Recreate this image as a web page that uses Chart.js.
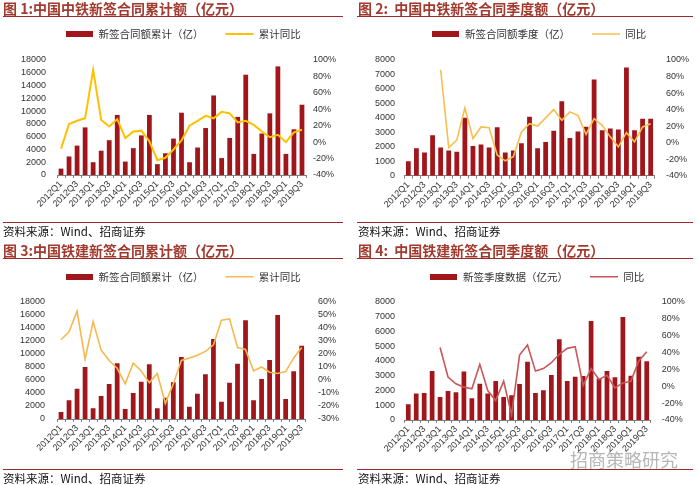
<!DOCTYPE html>
<html>
<head>
<meta charset="utf-8">
<script src="https://cdn.jsdelivr.net/npm/chart.js@4.4.1/dist/chart.umd.min.js"></script>
<style>
body { margin:0; background:#fff; width:700px; height:485px; overflow:hidden; position:relative; }
.panel { position:absolute; width:350px; }
.panel canvas { position:absolute; left:0; top:0; }
.title { position:absolute; white-space:nowrap; font-family:"Noto Sans CJK SC",sans-serif; font-weight:bold; font-size:14px; line-height:16px; color:#a33a2e; }
.rule { position:absolute; height:0; border-top:1.5px solid #9c2a2a; }
.source { position:absolute; white-space:nowrap; font-family:"Noto Sans CJK SC",sans-serif; font-size:11.5px; line-height:14px; color:#111; }
.mark { position:absolute; left:570px; top:446px; font-family:"Noto Sans CJK SC",sans-serif; font-size:18px; color:rgba(110,110,110,0.5); white-space:nowrap; }
</style>
</head>
<body>
<div class="panel" style="left:0;top:0;height:240px">
  <canvas id="c1" width="350" height="240"></canvas>
  <div class="title" style="left:3px;top:0">图 1:中国中铁新签合同累计额（亿元）</div>
  <div class="rule" style="left:3px;width:340px;top:16px"></div>
  <div class="rule" style="left:3px;width:340px;top:222px"></div>
  <div class="source" style="left:3px;top:224px">资料来源：Wind、招商证券</div>
</div>
<div class="panel" style="left:350px;top:0;height:240px">
  <canvas id="c2" width="350" height="240"></canvas>
  <div class="title" style="left:8px;top:0">图 2:&nbsp; 中国中铁新签合同季度额（亿元）</div>
  <div class="rule" style="left:7px;width:336px;top:16px"></div>
  <div class="rule" style="left:7px;width:336px;top:222px"></div>
  <div class="source" style="left:8px;top:224px">资料来源：Wind、招商证券</div>
</div>
<div class="panel" style="left:0;top:240px;height:245px">
  <canvas id="c3" width="350" height="245"></canvas>
  <div class="title" style="left:3px;top:2px">图 3:中国铁建新签合同累计额（亿元）</div>
  <div class="rule" style="left:3px;width:340px;top:18px"></div>
  <div class="rule" style="left:3px;width:340px;top:229px"></div>
  <div class="source" style="left:3px;top:231px">资料来源：Wind、招商证券</div>
</div>
<div class="panel" style="left:350px;top:240px;height:245px">
  <canvas id="c4" width="350" height="245"></canvas>
  <div class="title" style="left:8px;top:2px">图 4:&nbsp; 中国铁建新签合同季度额（亿元）</div>
  <div class="rule" style="left:7px;width:336px;top:18px"></div>
  <div class="rule" style="left:7px;width:336px;top:229px"></div>
  <div class="source" style="left:8px;top:231px">资料来源：Wind、招商证券</div>
</div>
<div class="mark">招商策略研究</div>
<script>
// quarters 2012Q1 .. 2019Q3
const quarters = ['2012Q1','2012Q2','2012Q3','2012Q4','2013Q1','2013Q2','2013Q3','2013Q4',
  '2014Q1','2014Q2','2014Q3','2014Q4','2015Q1','2015Q2','2015Q3','2015Q4',
  '2016Q1','2016Q2','2016Q3','2016Q4','2017Q1','2017Q2','2017Q3','2017Q4',
  '2018Q1','2018Q2','2018Q3','2018Q4','2019Q1','2019Q2','2019Q3'];

// 中国中铁 累计 (亿) and 累计同比 (%)
const crecTotal = [1000,2900,4600,7450,2000,3800,5450,9400,2100,4200,6200,9400,1700,3400,5700,9750,
  2000,4300,7350,12450,2650,5800,9100,15700,3300,6500,9650,17000,3300,7150,11000];
const crecTotalYoy = [-8,22,26,29,88,27,19,28,5,13,14,1,-22,-19,-9,2,
  20,26,32,29,37,35,24,26,21,13,6,9,0,12,15];

// 中国中铁 季度 (亿) and 同比 (%)
const crecQuarter = [1000,1900,1600,2800,1950,1750,1650,4000,2050,2150,1950,3350,1600,1750,2250,4080,
  1900,2330,3100,5140,2600,3060,3390,6660,3150,3270,3200,7490,3150,3940,3940];
const crecQuarterYoy = [null,null,null,null,88,-6,3,42,5,19,18,-15,-22,-17,13,23,
  20,30,40,27,37,33,10,29,21,7,-5,12,1,19,23];

// 中国铁建 累计 (亿) and 累计同比 (%)
const crccTotal = [1080,2870,4670,8000,1640,3540,5380,8560,1540,4000,5740,8410,1640,3280,5640,9540,
  1900,3900,6870,12300,2670,5590,8510,15180,2870,6150,9080,16000,3080,7330,11280];
const crccTotalYoy = [31,37,53,16,45,23,15,9,-3,13,7,-2,5,-18,-3,15,
  17,19,22,27,46,47,25,23.5,7,10,6,5,6.5,17,25];

// 中国铁建 季度 (亿元) and 同比 (%)
const crccQuarter = [1060,1790,1830,3320,1560,1970,1880,3280,1470,2460,1790,2640,1560,1670,2440,3950,
  1830,2010,3050,5470,2640,2940,2980,6710,2820,3320,2890,6980,3000,4290,3980];
const crccQuarterYoy = [null,null,null,null,46,11,3,-1,-3,26,-5,-17,6,-34,37,49,
  18,21,28,38,45,47,1,21,8,13,-2,4,6,30,41];

const barColor = '#a0161b';
const tickFont = { family: '"Liberation Sans", Arial, sans-serif', size: 9 };

const swatch = document.createElement('canvas');
swatch.width = 27; swatch.height = 6;
const sctx = swatch.getContext('2d');
sctx.fillStyle = barColor;
sctx.fillRect(0, 0, 27, 6);

// pin legend height and nudge it sideways
function legendBox(h, dx) {
  return {
    id: 'legendBox',
    beforeLayout(chart) {
      if (chart.legend._patched) return;
      const fit = chart.legend.fit;
      chart.legend.fit = function () { fit.call(this); this.height = h; };
      chart.legend._patched = true;
    },
    afterLayout(chart) {
      chart.legend.left += dx;
      chart.legend.right += dx;
    }
  };
}

function makeChart(id, p) {
  new Chart(document.getElementById(id), {
    type: 'bar',
    data: {
      labels: quarters,
      datasets: [{
        type: 'line',
        label: p.lineLabel,
        data: p.yoy,
        yAxisID: 'y1',
        borderColor: p.lineColor,
        borderWidth: p.lineWidth,
        pointRadius: 0,
        pointStyle: 'line',
        tension: 0,
        fill: false,
        order: 0
      }, {
        label: p.barLabel,
        data: p.bars,
        yAxisID: 'y',
        backgroundColor: barColor,
        pointStyle: swatch,
        categoryPercentage: 0.9,
        barPercentage: 0.66,
        order: 1
      }]
    },
    options: {
      responsive: false,
      animation: false,
      layout: { padding: { left: 0, top: p.padTop, right: 0, bottom: 0 } },
      plugins: {
        legend: {
          reverse: true,
          labels: {
            usePointStyle: true,
            pointStyleWidth: 28,
            padding: 22,
            color: '#333',
            font: { family: '"Noto Sans CJK SC", sans-serif', size: 10.5 }
          }
        },
        tooltip: { enabled: false }
      },
      scales: {
        x: {
          grid: { display: true, drawOnChartArea: false, drawTicks: true, tickLength: 3, color: '#808080', offset: true },
          border: { display: true, color: '#808080' },
          ticks: {
            autoSkip: false, minRotation: 45, maxRotation: 45, padding: 1,
            color: '#333', font: tickFont,
            callback: (v, i) => i % 2 === 0 ? quarters[i] : ''
          },
          afterFit: s => { s.height = p.canvasH - p.plotBottom; }
        },
        y: {
          position: 'left',
          min: 0, max: p.yMax,
          grid: { display: false, drawTicks: false },
          border: { display: false },
          ticks: { stepSize: p.yStep, autoSkip: false, padding: p.leftTickPad, color: '#333', font: tickFont,
            callback: v => String(v) },
          afterFit: s => { s.width = p.plotLeft; }
        },
        y1: {
          position: 'right',
          min: p.rMin, max: p.rMax,
          grid: { display: false, drawTicks: false },
          border: { display: false },
          ticks: { stepSize: p.rStep, autoSkip: false, padding: p.rightTickPad, color: '#333', font: tickFont,
            callback: v => Math.round(v) + '%' },
          afterFit: s => { s.width = 350 - p.plotRight; }
        }
      }
    },
    plugins: [legendBox(p.plotTop - p.padTop, p.legendDx)]
  });
}

makeChart('c1', {
  bars: crecTotal, yoy: crecTotalYoy,
  barLabel: '新签合同额累计（亿）', lineLabel: '累计同比',
  lineColor: '#ffc000', lineWidth: 2,
  yMax: 18000, yStep: 2000, rMin: -40, rMax: 100, rStep: 20,
  legendDx: 8, padTop: 6.75, plotTop: 60, plotBottom: 175, plotLeft: 57, plotRight: 306,
  leftTickPad: 11, rightTickPad: 7, canvasH: 240
});
makeChart('c2', {
  bars: crecQuarter, yoy: crecQuarterYoy,
  barLabel: '新签合同额季度（亿）', lineLabel: '同比',
  lineColor: '#f8bf4f', lineWidth: 1.6,
  yMax: 8000, yStep: 1000, rMin: -40, rMax: 100, rStep: 20,
  legendDx: 14, padTop: 6.75, plotTop: 60, plotBottom: 175.7, plotLeft: 54.3, plotRight: 304.7,
  leftTickPad: 9.3, rightTickPad: 11.3, canvasH: 240
});
makeChart('c3', {
  bars: crccTotal, yoy: crccTotalYoy,
  barLabel: '新签合同额累计（亿）', lineLabel: '累计同比',
  lineColor: '#f6b94f', lineWidth: 1.6,
  yMax: 18000, yStep: 2000, rMin: -30, rMax: 60, rStep: 10,
  legendDx: 8, padTop: 9.45, plotTop: 62, plotBottom: 179, plotLeft: 57, plotRight: 305.7,
  leftTickPad: 12, rightTickPad: 12.3, canvasH: 245
});
makeChart('c4', {
  bars: crccQuarter, yoy: crccQuarterYoy,
  barLabel: '新签季度数据（亿元）', lineLabel: '同比',
  lineColor: '#c9575a', lineWidth: 1.6,
  yMax: 8000, yStep: 1000, rMin: -40, rMax: 100, rStep: 20,
  legendDx: 12, padTop: 9.45, plotTop: 62, plotBottom: 180, plotLeft: 54.3, plotRight: 300.7,
  leftTickPad: 9.3, rightTickPad: 11, canvasH: 245
});
</script>
</body>
</html>
